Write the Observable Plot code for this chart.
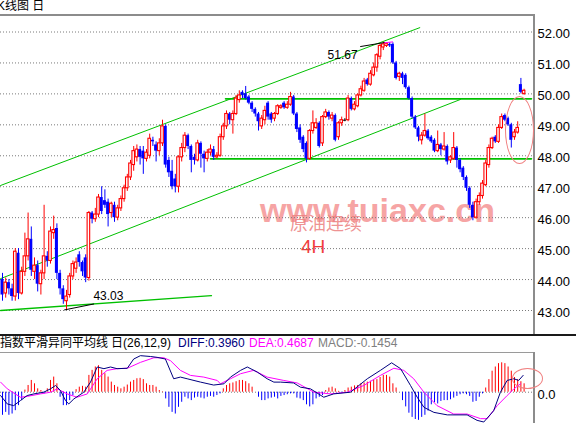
<!DOCTYPE html>
<html><head><meta charset="utf-8">
<script src="https://cdn.jsdelivr.net/npm/d3@7"></script>
<script src="https://cdn.jsdelivr.net/npm/@observablehq/plot@0.6"></script>
<style>
body{margin:0;background:#fff;}
#wrap{position:relative;width:576px;height:423px;overflow:hidden;background:#fff;font-family:"Liberation Sans","Noto Sans CJK SC",sans-serif;color:#000;}
.abs{position:absolute;white-space:nowrap;}
#wrap svg{position:absolute;left:0;}
</style></head><body>
<div id="wrap">
  <svg id="wm" width="576" height="423" style="top:0">
    <text x="260" y="222" font-family="Liberation Sans" font-weight="bold" font-size="34" fill="#f6a4a4">www.tuiaxc.cn</text>
    <text x="290" y="230" font-family="Noto Sans CJK SC" font-size="18" fill="#ec8080" fill-opacity="0.85">原油连续</text>
    <text x="301" y="253" font-family="Liberation Sans" font-size="19" fill="#f03c3c">4H</text>
  </svg>
  <div class="abs" style="left:-3px;top:-1px;font-size:12px;line-height:14px;">K线图 日</div>
  <div class="abs" style="left:0;top:14px;width:535px;height:2px;background:#8c8c8c"></div>
  <div class="abs" style="left:533px;top:14px;width:2px;height:321px;background:#8c8c8c"></div>
  <div class="abs" style="left:0;top:334px;width:576px;height:2px;background:#1a1a1a"></div>
  <div class="abs" style="left:0;top:336px;font-size:12px;line-height:14px;">指数平滑异同平均线</div>
  <div class="abs" style="left:111px;top:336px;font-size:12px;line-height:14px;">日(26,12,9)</div>
  <div class="abs" style="left:178px;top:336px;font-size:12px;line-height:14px;color:#000080">DIFF:0.3960</div>
  <div class="abs" style="left:249px;top:336px;font-size:12px;line-height:14px;color:#ff00ff">DEA:0.4687</div>
  <div class="abs" style="left:318px;top:336px;font-size:12px;line-height:14px;color:#808080">MACD:-0.1454</div>
  <div class="abs" style="left:0;top:352px;width:535px;height:1px;background:#9a9a9a"></div>
  <div class="abs" style="left:533px;top:352px;width:2px;height:71px;background:#8c8c8c"></div>
  <div id="main"></div>
  <div id="macd"></div>
  <div class="abs" style="left:505px;top:96px;width:27px;height:66px;border:1px solid #f08080;border-radius:50%;"></div>
  <div class="abs" style="left:512px;top:368px;width:29px;height:19px;border:1px solid #f08080;border-radius:50%;"></div>
</div>
<script>
// ---- candle data (4H bars, left to right) ----
const opens = [
44.0,43.55,43.9,43.7,43.45,44.85,43.55,44.25,44.75,45.3,
44.25,44.45,43.85,44.2,44.75,44.6,45.5,45.65,44.2,43.7,
43.3,43.5,44.1,44.35,44.8,44.55,44.7,44.05,46.15,45.95,
46.1,46.65,46.55,46.5,46.15,46.4,46.0,46.3,46.6,46.95,
47.3,47.7,47.95,48.2,48.15,47.9,48.0,48.5,48.35,48.15,
48.4,48.95,47.85,47.5,47.25,47.0,47.95,48.25,48.65,48.3,
47.95,47.85,48.4,48.05,47.9,48.1,48.2,47.95,48.0,48.6,
48.95,49.35,49.15,49.35,49.8,50.05,50.0,49.9,49.7,49.5,
49.35,48.95,49.15,49.7,49.35,49.2,49.35,49.55,49.7,49.55,
49.65,49.9,49.35,48.9,48.6,48.4,47.9,48.8,48.9,49.05,
48.4,49.25,49.4,49.2,49.3,48.6,49.05,49.15,49.15,49.85,
49.5,49.6,49.95,50.1,50.45,50.3,50.6,50.85,51.2,51.5,
51.55,51.6,51.6,51.0,50.55,50.65,50.6,50.2,49.85,49.25,
48.9,48.5,48.65,48.8,48.6,48.5,48.15,48.35,48.2,48.3,
47.85,47.9,48.25,47.85,47.6,47.3,46.95,46.4,46.0,46.5,
46.7,47.05,47.7,48.25,48.6,48.45,48.9,49.3,49.2,49.0,
48.6,48.75,50.3,50.0];
const closes = [
43.5,43.9,43.7,43.45,44.9,43.55,44.25,44.75,45.3,44.3,
44.45,43.85,44.2,44.75,44.6,45.55,45.6,44.2,43.7,43.35,
43.45,44.1,44.5,44.55,44.55,44.25,44.05,46.15,45.95,46.1,
46.65,46.2,46.4,46.1,46.45,46.0,46.3,46.6,46.95,47.3,
47.75,48.15,48.2,47.95,47.9,48.1,48.55,48.45,48.15,48.4,
48.95,47.7,47.45,47.0,47.0,47.95,48.25,48.65,48.3,47.85,
47.85,48.4,48.05,47.9,48.1,48.2,47.95,48.0,48.6,48.95,
49.35,49.15,49.35,49.85,49.95,49.95,49.85,49.7,49.5,49.35,
49.1,49.2,49.45,49.25,49.15,49.35,49.6,49.6,49.55,49.65,
49.9,49.35,48.85,48.5,48.2,47.9,48.8,49.05,49.05,48.3,
49.25,49.4,49.25,49.3,48.5,49.05,49.15,49.15,49.85,49.5,
49.65,49.95,50.15,50.4,50.3,50.65,50.85,51.25,51.55,51.6,
51.62,51.55,51.0,50.5,50.65,50.5,50.2,49.85,49.25,48.9,
48.6,48.65,48.8,48.55,48.45,48.15,48.35,48.2,48.3,47.8,
47.95,48.25,47.85,47.55,47.3,46.95,46.4,46.0,46.5,46.7,
47.1,47.75,48.25,48.55,48.45,48.9,49.25,49.15,49.0,48.5,
48.75,48.9,50.05,50.1];
const highs = [
44.2,44.05,44.0,43.85,45.0,45.0,44.4,45.5,46.15,45.7,
44.7,44.6,44.3,46.4,44.9,45.7,46.05,45.8,44.3,43.8,
43.65,44.2,44.6,44.7,44.9,44.6,44.8,46.2,46.2,46.3,
46.75,47.0,46.9,46.6,46.5,46.5,46.4,46.7,47.05,47.4,
47.85,48.3,48.35,48.3,48.3,48.2,48.7,48.6,48.45,48.55,
49.15,49.0,47.95,47.85,47.4,48.0,48.4,48.75,48.7,48.35,
48.05,48.5,48.45,48.15,48.2,48.35,48.3,48.1,48.7,49.05,
49.45,49.4,49.45,49.95,50.1,50.1,50.24,49.95,49.75,49.55,
49.4,49.3,49.6,49.75,49.4,49.4,49.65,49.65,49.75,49.75,
50.05,49.95,49.4,49.0,48.65,48.45,48.85,49.45,49.2,49.1,
49.3,49.5,49.45,49.4,49.35,49.1,49.25,49.2,49.95,49.9,
49.75,50.0,50.25,50.5,50.5,50.75,51.0,51.3,51.6,51.67,
51.65,51.65,51.65,51.05,50.7,50.7,50.65,50.25,49.9,49.3,
48.95,48.75,49.35,48.85,48.65,48.55,48.8,48.4,48.75,48.35,
48.0,48.75,48.3,47.9,47.65,47.35,47.0,46.5,46.6,46.8,
47.2,47.85,48.35,48.6,48.65,49.0,49.35,49.35,49.25,49.05,
48.85,49.1,50.5,50.15];
const lows = [
43.3,43.4,43.5,43.3,43.3,43.35,43.5,44.1,44.6,44.1,
44.0,43.6,43.5,44.0,44.4,44.5,45.3,44.0,43.5,43.2,
43.03,43.4,44.0,44.2,44.4,44.1,43.9,43.95,45.8,45.85,
46.0,46.1,46.3,45.7,46.0,45.85,45.9,46.2,46.5,46.85,
47.2,47.5,47.8,47.7,47.4,47.8,47.9,48.3,47.8,48.0,
48.3,47.6,47.3,46.9,46.8,46.8,47.8,48.1,48.2,47.45,
47.7,47.8,47.6,47.45,47.8,48.0,47.85,47.9,47.95,48.5,
48.85,49.0,48.7,49.3,49.7,49.85,49.8,49.65,49.4,49.25,
48.8,48.85,49.0,49.15,49.05,49.1,49.3,49.5,49.5,49.5,
49.6,49.3,48.75,48.4,48.1,47.77,47.85,48.7,48.85,48.25,
48.3,49.2,49.15,49.1,48.45,48.5,48.95,49.1,49.1,49.45,
49.45,49.55,49.9,50.05,50.25,50.25,50.55,50.7,51.1,51.4,
51.5,51.5,50.95,50.45,50.4,50.3,50.15,49.8,49.2,48.85,
48.45,48.35,48.6,48.5,48.4,48.1,48.1,48.0,48.15,47.7,
47.75,47.85,47.6,47.45,47.2,46.85,46.3,45.9,45.95,46.4,
46.6,47.0,47.6,48.2,48.4,48.4,48.85,49.1,48.95,48.25,
48.5,48.7,50.0,49.95];
const priceTicks = [43,44,45,46,47,48,49,50,51,52];

// ---- drawn lines [barIndex, price] ----
const upperChannel = [[-0.6,47.04],[130.4,52.14]];
const lowerChannel = [[-0.6,44.03],[143.1,49.82]];
const resistance = [[69.7,49.84],[165.3,49.84]];
const support = [[65,47.9],[165.3,47.9]];
const baseLine = [[-0.6,43.0],[65.3,43.48]];
const lowMarker = [[19.4,43.02],[28.5,43.21]];
const highMarker = [[111.9,51.53],[119.4,51.66]];
const highTail = [[119.4,51.65],[121.9,51.68]];
const priceLabels = ["43.03","51.67"];
const priceLabelAt = [[28.4,43.45],[101.6,51.26]];

// ---- MACD (26,12,9) ----
const macdHist = [
-0.55,-0.48,-0.55,-0.52,-0.44,-0.32,-0.2,0.05,0.16,0.28,
0.2,0.08,0.04,-0.04,0.08,0.28,0.36,0.2,-0.12,-0.32,
-0.32,-0.2,-0.08,0.06,0.12,0.14,0.12,0.4,0.52,0.6,
0.63,0.52,0.44,0.36,0.24,0.16,0.12,0.08,0.12,0.17,
0.24,0.28,0.32,0.33,0.3,0.2,0.16,0.16,0.12,0.04,
0.01,-0.16,-0.36,-0.48,-0.52,-0.36,-0.24,-0.12,-0.16,-0.2,
-0.14,-0.12,-0.14,-0.16,-0.12,-0.1,-0.12,-0.08,-0.04,0.08,
0.16,0.2,0.22,0.25,0.28,0.28,0.25,0.2,0.12,0.0,
-0.12,-0.2,-0.2,-0.16,-0.14,-0.12,-0.16,-0.1,-0.08,-0.06,
-0.04,-0.04,-0.14,-0.16,-0.2,-0.3,-0.35,-0.3,-0.16,-0.12,
-0.08,0.04,0.1,0.12,0.08,0.02,-0.02,0.04,0.1,0.12,
0.15,0.16,0.2,0.22,0.24,0.26,0.28,0.3,0.35,0.4,
0.4,0.36,0.2,0.1,0.0,-0.2,-0.35,-0.5,-0.6,-0.65,
-0.67,-0.6,-0.55,-0.45,-0.3,-0.25,-0.28,-0.22,-0.2,-0.2,
-0.18,-0.14,-0.1,-0.06,-0.04,-0.06,-0.1,-0.24,-0.22,-0.12,
-0.04,0.1,0.3,0.5,0.6,0.68,0.7,0.68,0.6,0.5,
0.35,0.3,0.25,0.2];
const diffAt = [-0.6,1.5,3.5,5.6,7.7,9.8,12.9,15,16.6,18.1,19.7,20.7,22.3,25.4,27.5,29.6,31.7,33.75,35.8,39,41,43.1,46.25,48.3,50.9,53.5,55.6,57.7,61.9,66,69.2,71.25,74.4,76.5,79.6,82.7,84.8,86.9,91,93.1,96.25,100.4,103.5,108.75,114,118.1,121.6,124.4,127.5,129.6,131.7,134.8,139,145.2,148.3,150.4,153.5,155.6,157.7,159.8,161.3,162.7];
const diffVal = [-0.08,-0.28,-0.32,-0.2,-0.08,-0.04,0,0.08,0.16,0.04,-0.2,-0.28,-0.16,0,0.24,0.6,0.56,0.6,0.56,0.57,0.79,0.87,0.85,0.83,0.79,0.32,0.36,0.32,0.24,0.17,0.2,0.36,0.52,0.6,0.48,0.32,0.24,0.24,0.22,0.12,0.08,-0.12,-0.04,0,0.32,0.52,0.7,0.56,0.16,-0.12,-0.36,-0.48,-0.54,-0.54,-0.67,-0.71,-0.44,0,0.28,0.32,0.28,0.4];
const deaAt = [-0.6,1.5,5.6,7.7,11.9,15,17.1,20.2,23.3,26.5,29.6,32.7,35.8,39,43.1,47.3,50.4,52.5,55.6,58.75,62.9,67.1,68.1,71.25,74.4,78.5,82.7,87.9,92.1,97.3,102.5,107.7,112.9,118.1,122.3,125.4,128.5,131.7,135.8,141,145.2,149.4,151.5,154.6,157.7,159.8,161.9];
const deaVal = [0.24,0.08,-0.12,-0.1,-0.04,0,0.08,-0.04,-0.12,-0.04,0.32,0.52,0.56,0.57,0.71,0.82,0.82,0.75,0.52,0.4,0.36,0.28,0.2,0.32,0.44,0.52,0.36,0.28,0.22,0,-0.04,0,0.16,0.4,0.57,0.52,0.32,0,-0.32,-0.52,-0.52,-0.63,-0.63,-0.32,-0.08,0.08,0.2];

const N = closes.length;
const candles = d3.range(N).map(i => ({i, o: opens[i], c: closes[i], h: highs[i], l: lows[i]}));
const col = d => d.c > d.o ? "#ff0000" : d.c < d.o ? "#0000ff" : "#000000";
const upBars = candles.filter(d => d.c > d.o);
const downBars = candles.filter(d => d.c < d.o);
const flatBars = candles.filter(d => d.c === d.o);
const xScale = {domain: [0, N - 1], range: [2, 2 + 3.2 * (N - 1)], axis: null};
const green = "#00c000";

const main = Plot.plot({
  width: 576, height: 320,
  marginLeft: 0, marginRight: 42, marginTop: 0, marginBottom: 0,
  style: {background: "transparent", fontFamily: "Liberation Sans", overflow: "visible", maxWidth: "none"},
  x: xScale,
  y: {domain: [43, 52], range: [295, 16.5]},
  marks: [
    Plot.ruleY(priceTicks, {stroke: "#7a7a7a", strokeDasharray: "1,2", strokeWidth: 1}),
    Plot.axisY(priceTicks, {anchor: "right", tickSize: 0, tickPadding: 3, tickFormat: d => d.toFixed(2), fontSize: 13, fill: "#000", dy: 2, label: null}),
    Plot.line(upperChannel, {stroke: green, strokeWidth: 1}),
    Plot.line(lowerChannel, {stroke: green, strokeWidth: 1}),
    Plot.line(resistance, {stroke: green, strokeWidth: 1.6}),
    Plot.line(support, {stroke: green, strokeWidth: 1.6}),
    Plot.line(baseLine, {stroke: green, strokeWidth: 1.3}),
    Plot.ruleX(candles, {x: "i", y1: "l", y2: "h", stroke: col, strokeWidth: 1}),
    Plot.rect(downBars, {x1: d => d.i - 0.47, x2: d => d.i + 0.47, y1: "o", y2: "c", fill: "#0000ff"}),
    Plot.rect(upBars, {x1: d => d.i - 0.4, x2: d => d.i + 0.4, y1: "o", y2: "c", fill: "#ffffff", stroke: "#ff0000", strokeWidth: 1.1}),
    Plot.ruleY(flatBars, {y: "c", x1: d => d.i - 0.45, x2: d => d.i + 0.45, stroke: "#000"}),
    Plot.line(lowMarker, {stroke: "#000", strokeWidth: 1}),
    Plot.line(highMarker, {stroke: "#000", strokeWidth: 1}),
    Plot.line(highTail, {stroke: "#ff00ff", strokeWidth: 1}),
    Plot.text(priceLabels, {x: (d, k) => priceLabelAt[k][0], y: (d, k) => priceLabelAt[k][1], text: d => d, textAnchor: "start", fontSize: 12, fill: "#000"})
  ]
});
main.style.top = "15px";
document.getElementById("main").appendChild(main);

const hist = macdHist.map((v, i) => ({i, v}));
const diffLine = diffAt.map((a, k) => [a, diffVal[k]]);
const deaLine = deaAt.map((a, k) => [a, deaVal[k]]);
const macd = Plot.plot({
  width: 576, height: 70,
  marginLeft: 0, marginRight: 42, marginTop: 0, marginBottom: 0,
  style: {background: "transparent", fontFamily: "Liberation Sans", overflow: "visible", maxWidth: "none"},
  x: xScale,
  y: {domain: [-1, 1], range: [80.7, -3.3]},
  marks: [
    Plot.ruleY([0], {stroke: "#7a7a7a", strokeDasharray: "1,2"}),
    Plot.axisY([0], {anchor: "right", tickSize: 0, tickPadding: 3, tickFormat: () => "0.0", fontSize: 13, fill: "#000", dy: 3, label: null}),
    Plot.ruleX(hist.filter(d => d.v !== 0), {x: "i", y1: 0, y2: "v", stroke: d => d.v > 0 ? "#ff0000" : "#0000ff", strokeWidth: 1}),
    Plot.line(deaLine, {stroke: "#ff00ff", strokeWidth: 1}),
    Plot.line(diffLine, {stroke: "#000080", strokeWidth: 1})
  ]
});
macd.style.top = "353px";
document.getElementById("macd").appendChild(macd);
</script>
</body></html>
